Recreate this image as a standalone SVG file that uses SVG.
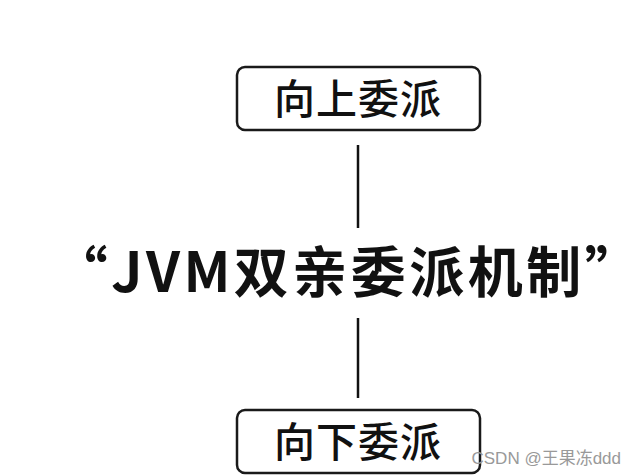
<svg xmlns="http://www.w3.org/2000/svg" width="634" height="476" viewBox="0 0 634 476">
<style>
.box{fill:#fff;stroke:#1a1a1a;stroke-width:2.5}
.lbl{font-family:"Noto Sans CJK SC","Noto Sans",sans-serif;font-size:41px;font-weight:500;fill:#111;text-anchor:middle;letter-spacing:1px}
.ln{stroke:#111;stroke-width:2.5}
</style>
<rect width="634" height="476" fill="#fff"/>
<g id="connectors">
<line class="ln" x1="358" y1="145" x2="358" y2="228"/>
<line class="ln" x1="358" y1="318" x2="358" y2="398"/>
</g>
<g id="up"><rect class="box" x="237" y="67" width="243" height="63" rx="8"/><text class="lbl" x="358" y="114">向上委派</text></g>
<g id="title"><text x="348" y="292" font-family="Noto Sans CJK SC,sans-serif" font-size="55" font-weight="bold" fill="#111" text-anchor="middle" letter-spacing="3.5">“JVM双亲委派机制”</text></g>
<g id="down"><rect class="box" x="237" y="410" width="243" height="63" rx="8"/><text class="lbl" x="358" y="457">向下委派</text></g>
<text x="621" y="464" font-family="Liberation Sans,Noto Sans CJK SC,sans-serif" font-size="17" fill="#999" text-anchor="end">CSDN @王果冻ddd</text>
</svg>
